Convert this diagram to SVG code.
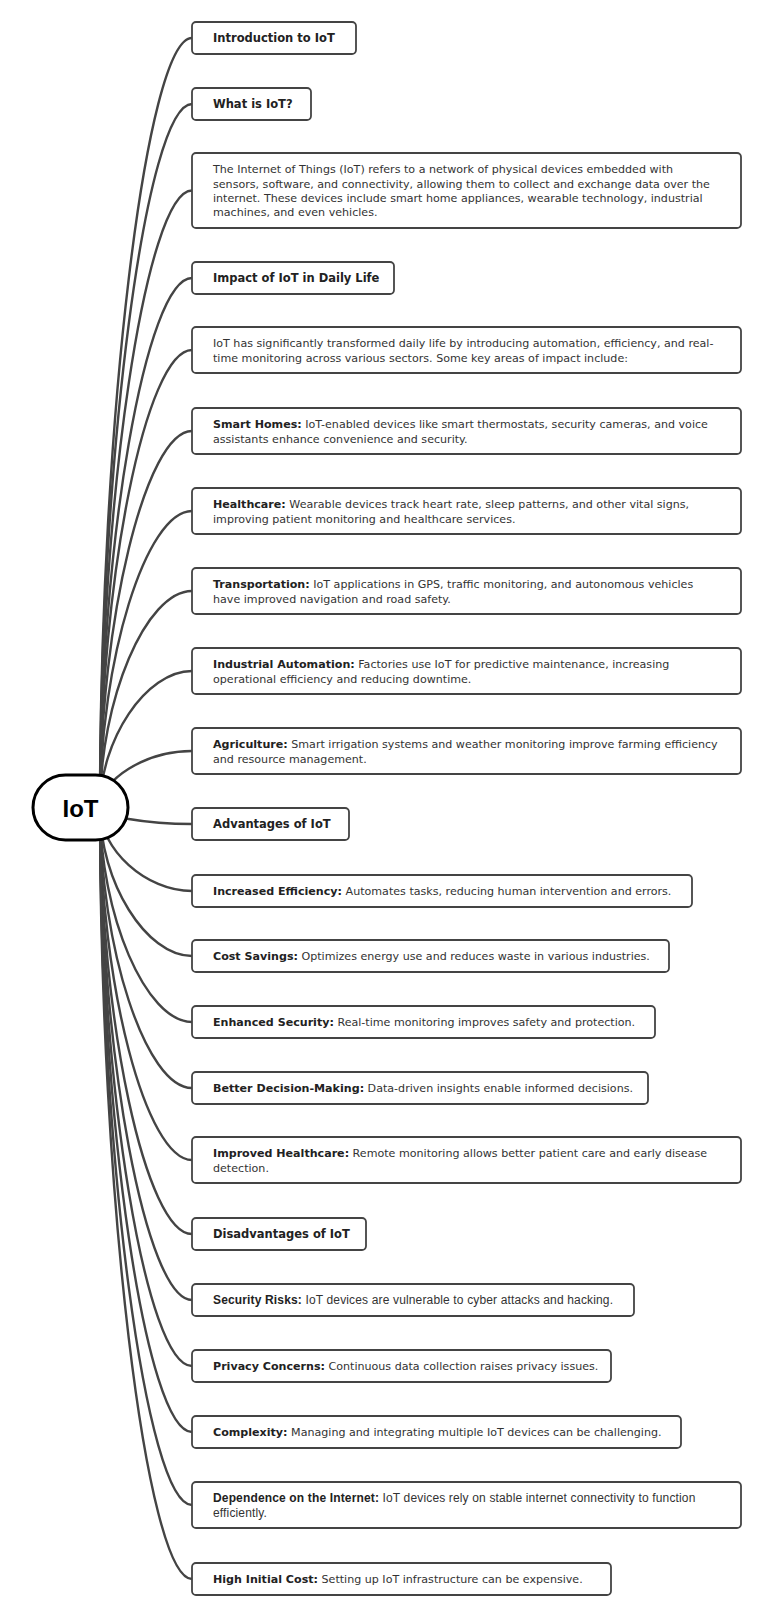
<svg xmlns="http://www.w3.org/2000/svg" width="774" height="1616" viewBox="0 0 774 1616">
<style>
.bg{fill:#ffffff}
.box{fill:#ffffff;stroke:#444444;stroke-width:1.8}
.conn path{fill:none;stroke:#444444;stroke-width:2.4}
.root{fill:#ffffff;stroke:#000000;stroke-width:3}
.t{font-family:"DejaVu Sans",Verdana,sans-serif;font-size:11.1px;fill:#333333}
.h{font-size:11.5px}
.a{font-family:"Liberation Sans",Arial,sans-serif;font-size:12px;fill:#333333;letter-spacing:0.15px}
.b{font-weight:bold;fill:#222222}
.rt{font-family:"Liberation Sans",Arial,sans-serif;font-size:24px;font-weight:bold;fill:#000000}
</style>
<rect class="bg" x="0" y="0" width="774" height="1616"/>
<g id="connectors" class="conn">
<path d="M100 808 C100 423 146 38 192 38"/>
<path d="M100 808 C100 456 146 104 192 104"/>
<path d="M100 808 C100 499 146 190.5 192 190.5"/>
<path d="M100 808 C100 543 146 278 192 278"/>
<path d="M100 808 C100 579 146 350 192 350"/>
<path d="M100 808 C100 619.5 146 431 192 431"/>
<path d="M100 808 C100 660 146 511 192 511"/>
<path d="M100 808 C100 699.5 146 591 192 591"/>
<path d="M100 808 C100 739.5 146 671 192 671"/>
<path d="M100 808 C100 779.5 146 751 192 751"/>
<path d="M100 808 C100 816 146 824 192 824"/>
<path d="M100 808 C100 849.5 146 891 192 891"/>
<path d="M100 808 C100 882 146 956 192 956"/>
<path d="M100 808 C100 915 146 1022 192 1022"/>
<path d="M100 808 C100 948 146 1088 192 1088"/>
<path d="M100 808 C100 984 146 1160 192 1160"/>
<path d="M100 808 C100 1021 146 1234 192 1234"/>
<path d="M100 808 C100 1054 146 1300 192 1300"/>
<path d="M100 808 C100 1087 146 1366 192 1366"/>
<path d="M100 808 C100 1120 146 1432 192 1432"/>
<path d="M100 808 C100 1156.5 146 1505 192 1505"/>
<path d="M100 808 C100 1193.5 146 1579 192 1579"/>
</g>
<g id="root">
<rect class="root" x="33" y="775" width="95" height="65" rx="32.5" ry="32.5"/>
<text class="rt" x="80.5" y="816.5" text-anchor="middle">IoT</text>
</g>
<g id="n1"><rect class="box" x="192" y="22" width="164" height="32" rx="4"/><text class="t h b" x="213" y="42.3">Introduction to IoT</text></g>
<g id="n2"><rect class="box" x="192" y="88" width="119" height="32" rx="4"/><text class="t h b" x="213" y="108.3">What is IoT?</text></g>
<g id="n3"><rect class="box" x="192" y="153" width="549" height="75" rx="4"/>
<text class="t" x="213" y="173.4">The Internet of Things (IoT) refers to a network of physical devices embedded with</text>
<text class="t" x="213" y="187.7">sensors, software, and connectivity, allowing them to collect and exchange data over the</text>
<text class="t" x="213" y="202">internet. These devices include smart home appliances, wearable technology, industrial</text>
<text class="t" x="213" y="216.3">machines, and even vehicles.</text></g>
<g id="n4"><rect class="box" x="192" y="262" width="202" height="32" rx="4"/><text class="t h b" x="213" y="282.3">Impact of IoT in Daily Life</text></g>
<g id="n5"><rect class="box" x="192" y="327" width="549" height="46" rx="4"/>
<text class="t" x="213" y="347.2">IoT has significantly transformed daily life by introducing automation, efficiency, and real-</text>
<text class="t" x="213" y="361.5">time monitoring across various sectors. Some key areas of impact include:</text></g>
<g id="n6"><rect class="box" x="192" y="408" width="549" height="46" rx="4"/>
<text class="t" x="213" y="428.2"><tspan class="b">Smart Homes:</tspan> IoT-enabled devices like smart thermostats, security cameras, and voice</text>
<text class="t" x="213" y="442.5">assistants enhance convenience and security.</text></g>
<g id="n7"><rect class="box" x="192" y="488" width="549" height="46" rx="4"/>
<text class="t" x="213" y="508.2"><tspan class="b">Healthcare:</tspan> Wearable devices track heart rate, sleep patterns, and other vital signs,</text>
<text class="t" x="213" y="522.5">improving patient monitoring and healthcare services.</text></g>
<g id="n8"><rect class="box" x="192" y="568" width="549" height="46" rx="4"/>
<text class="t" x="213" y="588.2"><tspan class="b">Transportation:</tspan> IoT applications in GPS, traffic monitoring, and autonomous vehicles</text>
<text class="t" x="213" y="602.5">have improved navigation and road safety.</text></g>
<g id="n9"><rect class="box" x="192" y="648" width="549" height="46" rx="4"/>
<text class="t" x="213" y="668.2"><tspan class="b">Industrial Automation:</tspan> Factories use IoT for predictive maintenance, increasing</text>
<text class="t" x="213" y="682.5">operational efficiency and reducing downtime.</text></g>
<g id="n10"><rect class="box" x="192" y="728" width="549" height="46" rx="4"/>
<text class="t" x="213" y="748.2"><tspan class="b">Agriculture:</tspan> Smart irrigation systems and weather monitoring improve farming efficiency</text>
<text class="t" x="213" y="762.5">and resource management.</text></g>
<g id="n11"><rect class="box" x="192" y="808" width="157" height="32" rx="4"/><text class="t h b" x="213" y="828.3">Advantages of IoT</text></g>
<g id="n12"><rect class="box" x="192" y="875" width="500" height="32" rx="4"/>
<text class="t" x="213" y="895.3"><tspan class="b">Increased Efficiency:</tspan> Automates tasks, reducing human intervention and errors.</text></g>
<g id="n13"><rect class="box" x="192" y="940" width="477" height="32" rx="4"/>
<text class="t" x="213" y="960.3"><tspan class="b">Cost Savings:</tspan> Optimizes energy use and reduces waste in various industries.</text></g>
<g id="n14"><rect class="box" x="192" y="1006" width="463" height="32" rx="4"/>
<text class="t" x="213" y="1026.3"><tspan class="b">Enhanced Security:</tspan> Real-time monitoring improves safety and protection.</text></g>
<g id="n15"><rect class="box" x="192" y="1072" width="456" height="32" rx="4"/>
<text class="t" x="213" y="1092.3"><tspan class="b">Better Decision-Making:</tspan> Data-driven insights enable informed decisions.</text></g>
<g id="n16"><rect class="box" x="192" y="1137" width="549" height="46" rx="4"/>
<text class="t" x="213" y="1157.2"><tspan class="b">Improved Healthcare:</tspan> Remote monitoring allows better patient care and early disease</text>
<text class="t" x="213" y="1171.5">detection.</text></g>
<g id="n17"><rect class="box" x="192" y="1218" width="174" height="32" rx="4"/><text class="t h b" x="213" y="1238.3">Disadvantages of IoT</text></g>
<g id="n18"><rect class="box" x="192" y="1284" width="442" height="32" rx="4"/>
<text class="a" x="213" y="1304.3"><tspan class="b">Security Risks:</tspan> IoT devices are vulnerable to cyber attacks and hacking.</text></g>
<g id="n19"><rect class="box" x="192" y="1350" width="419" height="32" rx="4"/>
<text class="t" x="213" y="1370.3"><tspan class="b">Privacy Concerns:</tspan> Continuous data collection raises privacy issues.</text></g>
<g id="n20"><rect class="box" x="192" y="1416" width="489" height="32" rx="4"/>
<text class="t" x="213" y="1436.3"><tspan class="b">Complexity:</tspan> Managing and integrating multiple IoT devices can be challenging.</text></g>
<g id="n21"><rect class="box" x="192" y="1482" width="549" height="46" rx="4"/>
<text class="a" x="213" y="1502.2"><tspan class="b">Dependence on the Internet:</tspan> IoT devices rely on stable internet connectivity to function</text>
<text class="a" x="213" y="1516.5">efficiently.</text></g>
<g id="n22"><rect class="box" x="192" y="1563" width="419" height="32" rx="4"/>
<text class="t" x="213" y="1583.3"><tspan class="b">High Initial Cost:</tspan> Setting up IoT infrastructure can be expensive.</text></g>
</svg>
